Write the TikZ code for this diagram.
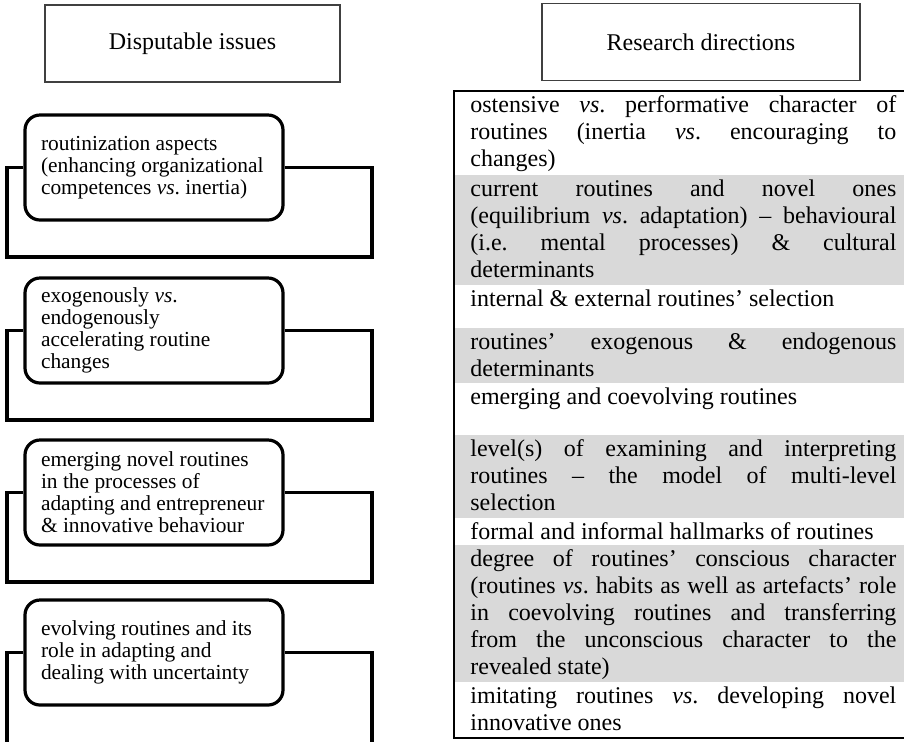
\documentclass[tikz,border=0pt]{standalone}
\usepackage{fontspec}
\setmainfont{Liberation Serif}
\definecolor{rowgray}{RGB}{217,217,217}
\definecolor{headline}{RGB}{64,64,64}
\newcommand{\justline}[1]{\makebox[213pt][s]{\spaceskip=0pt\xspaceskip=0pt\relax #1}}

\begin{document}
\frenchspacing
\begin{tikzpicture}[
    x=0.5pt, y=-0.5pt,
    header/.style={draw=headline, line width=0.65pt, minimum height=38.5pt, font=\fontsize{12}{13.5}\selectfont},
    issue/.style={draw, line width=1.6pt, rounded corners=7.5pt, minimum width=129pt, minimum height=52.5pt, inner xsep=8pt, text width=113pt, align=left, font=\fontsize{10.7}{11}\selectfont, execute at begin node={\spaceskip=0pt\relax}},
    loopline/.style={line width=1.6pt},
    direction/.style={anchor=north west, inner xsep=8pt, inner ysep=2pt, text width=213pt, align=left, font=\fontsize{12}{13.5}\selectfont, execute at begin node={\spaceskip=0pt\relax}},
    frame/.style={line width=1pt}
]
    \useasboundingbox (0,0) rectangle (904,741);

    % Headers
    \node[header, minimum width=147.5pt] (issues) at (192.5,43.5) {Disputable issues};
    \node[header, minimum width=159pt] (directions) at (701,42) {Research directions};

    % Disputable issues
    \node[issue] (routin) at (154,167.5) {routinization aspects\\ (enhancing organizational\\ competences \textit{vs}. inertia)};
    \node[issue] (exog) at (154,330.5) {exogenously \textit{vs}.\\ endogenously\\ accelerating routine\\ changes};
    \node[issue] (emerg) at (154,492.5) {emerging novel routines\\ in the processes of\\ adapting and entrepreneur\\ \& innovative behaviour};
    \node[issue] (evolv) at (154,652.5) {evolving routines and its\\ role in adapting and\\ dealing with uncertainty};

    % Loops round the issues
    \draw[loopline] (routin.west) -| (7,257) -| (372,167.5) -- (routin.east);
    \draw[loopline] (exog.west) -| (7,420) -| (372,330.5) -- (exog.east);
    \draw[loopline] (emerg.west) -| (7,582) -| (372,492.5) -- (emerg.east);
    \draw[loopline] (evolv.west) -| (7,760) -| (372,652.5) -- (evolv.east);

    % Research directions table
    \fill[rowgray] (454,175) rectangle (912,285);
    \fill[rowgray] (454,328) rectangle (912,383);
    \fill[rowgray] (454,435) rectangle (912,518);
    \fill[rowgray] (454,545) rectangle (912,682);
    \draw[frame] (454,91) rectangle (912,738);

    \node[direction] (dir1) at (454,91) {\justline{ostensive \textit{vs}. performative character of}\\ \justline{routines (inertia \textit{vs}. encouraging to}\\ changes)};
    \node[direction] (dir2) at (454,175) {\justline{current routines and novel ones}\\ \justline{(equilibrium \textit{vs}. adaptation) – behavioural}\\ \justline{(i.e. mental processes) \& cultural}\\ determinants};
    \node[direction] (dir3) at (454,285) {internal \& external routines’ selection};
    \node[direction] (dir4) at (454,328) {\justline{routines’ exogenous \& endogenous}\\ determinants};
    \node[direction] (dir5) at (454,383) {emerging and coevolving routines};
    \node[direction] (dir6) at (454,435) {\justline{level(s) of examining and interpreting}\\ \justline{routines – the model of multi-level}\\ selection};
    \node[direction] (dir7) at (454,518) {formal and informal hallmarks of routines};
    \node[direction] (dir8) at (454,545) {\justline{degree of routines’ conscious character}\\ \justline{(routines \textit{vs}. habits as well as artefacts’ role}\\ \justline{in coevolving routines and transferring}\\ \justline{from the unconscious character to the}\\ revealed state)};
    \node[direction] (dir9) at (454,682) {\justline{imitating routines \textit{vs}. developing novel}\\ innovative ones};
\end{tikzpicture}
\end{document}
